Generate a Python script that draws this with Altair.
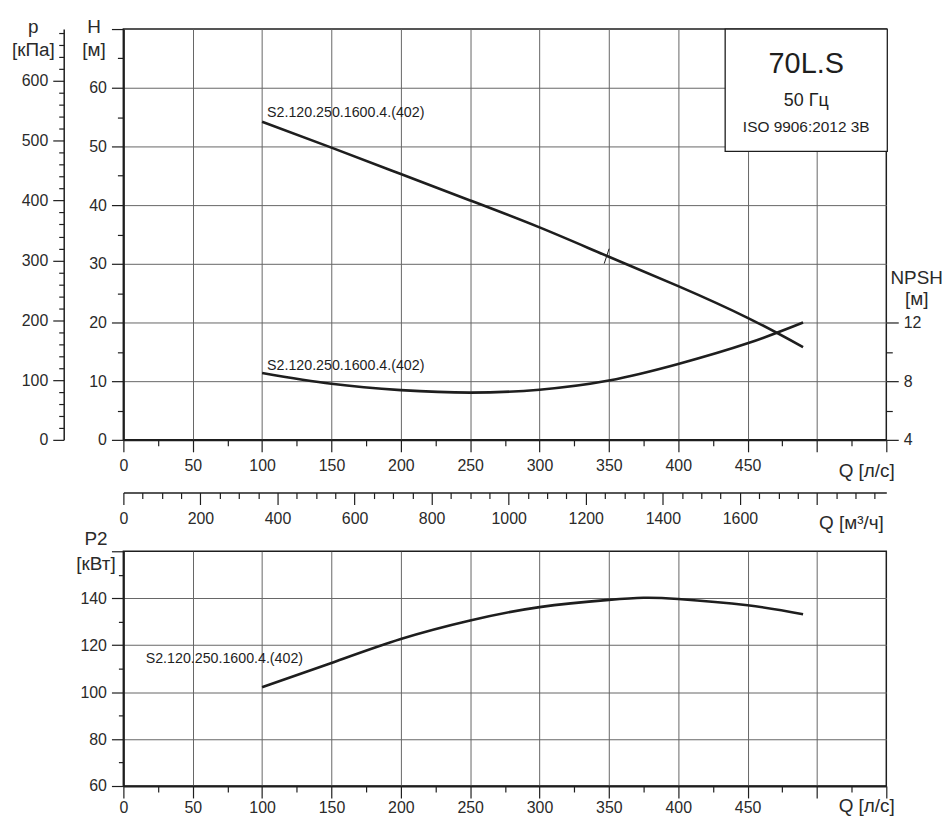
import altair as alt
import pandas as pd

# ---------------- data ----------------
curve_name = "S2.120.250.1600.4.(402)"
q_h = [100, 150, 200, 250, 300, 350, 400, 450, 490]
head_m = [54.2, 49.8, 45.3, 40.8, 36.2, 31.2, 26.2, 20.8, 15.8]
q_npsh = [100, 150, 200, 250, 300, 350, 400, 450, 490]
npsh_m = [8.56, 7.82, 7.39, 7.22, 7.42, 8.04, 9.17, 10.58, 12.0]
q_p2 = [100, 150, 200, 250, 300, 350, 375, 400, 450, 490]
p2_kw = [102.1, 112.4, 122.6, 130.5, 136.2, 139.3, 140.2, 139.7, 137.0, 133.2]
bep_q = [348.4]
bep_h = [31.3]
box_lines = ["70L.S", "50 Гц", "ISO 9906:2012 3B"]

q_ticks = list(range(0, 551, 25))
h_ticks = list(range(0, 71, 5))
p_ticks = list(range(0, 681, 20))
npsh_ticks = [4, 6, 8, 10, 12]
qm_ticks = list(range(0, 1951, 50))
p2_ticks = list(range(60, 161, 10))

Q_MAX = 550
H_MAX = 70
P_MAX = H_MAX * 9.81          # kPa equivalent of the head scale
NPSH_DOM = [4, 4 + 0.4 * H_MAX]
QM_MAX = Q_MAX * 3.6          # m3/h equivalent of the flow scale
P2_DOM = [60, 160]

# ---------------- styling ----------------
W, H_TOP, H_BOT = 767, 413, 236
FONT = "Liberation Sans"
INK = "#1e1e1e"
LINE_W = 2.6
INTERP = "natural"


def cond(test, a, b):
    return {"condition": {"test": test, "value": a}, "value": b}


def q_axis(title_y, pad):
    return alt.Axis(
        values=q_ticks,
        tickSize=cond("datum.value % 50 === 0", 12, 6),
        labelExpr="datum.value % 50 === 0 && datum.value <= 450 ? datum.label : ''",
        grid=True,
        gridOpacity=cond("datum.value % 50 === 0 && datum.value > 0 && datum.value < 550", 1, 0),
        domainWidth=2,
        labelPadding=pad,
        labelFlush=False,
        labelOverlap=False,
        title="Q [л/с]",
        titleAlign="right",
        titleBaseline="alphabetic",
        titleX=775,
        titleY=title_y,
    )


xs = alt.Scale(domain=[0, Q_MAX], nice=False, zero=False)
ys_h = alt.Scale(domain=[0, H_MAX], nice=False)

df_h = pd.DataFrame({"Q": q_h, "H": head_m})
df_n = pd.DataFrame({"Q": q_npsh, "NPSH": npsh_m})
df_p2 = pd.DataFrame({"Q": q_p2, "P2": p2_kw})
df_bep = pd.DataFrame({"Q": bep_q, "H": bep_h})
df_hlab = pd.DataFrame({"Q": [q_h[0]], "H": [head_m[0]], "name": [curve_name]})
df_nlab = pd.DataFrame({"Q": [q_npsh[0]], "NPSH": [npsh_m[0]], "name": [curve_name]})
df_plab = pd.DataFrame({"Q": [q_p2[0]], "P2": [p2_kw[0]], "name": [curve_name]})
one = pd.DataFrame({"k": [0]})

h_axis = alt.Axis(
    values=h_ticks,
    tickSize=cond("datum.value % 10 === 0", 12, 6),
    labelExpr="datum.value % 10 === 0 && datum.value < 70 ? datum.label : ''",
    grid=True,
    gridOpacity=cond("datum.value % 10 === 0 && datum.value > 0 && datum.value < 70", 1, 0),
    domainWidth=2,
    labelPadding=5,
    labelOverlap=False,
    title=["H", "[м]"],
    titleAngle=0,
    titleAlign="center",
    titleBaseline="alphabetic",
    titleX=-30,
    titleY=3,
    titleLineHeight=24,
)

h_line = alt.Chart(df_h).mark_line(color=INK, strokeWidth=LINE_W, interpolate=INTERP).encode(
    x=alt.X("Q:Q", scale=xs, axis=q_axis(37, 6)),
    y=alt.Y("H:Q", scale=ys_h, axis=h_axis),
)

h_label = alt.Chart(df_hlab).mark_text(
    align="left", baseline="alphabetic", dx=5, dy=-5, fontSize=14.3, font=FONT, color=INK
).encode(
    x=alt.X("Q:Q", scale=xs, axis=None),
    y=alt.Y("H:Q", scale=ys_h, axis=None),
    text="name:N",
)

bep = alt.Chart(df_bep).mark_point(
    shape="M -0.33 1 L 0.33 -1", size=225, filled=False, strokeWidth=1, color=INK, opacity=1
).encode(
    x=alt.X("Q:Q", scale=xs, axis=None),
    y=alt.Y("H:Q", scale=ys_h, axis=None),
)

npsh_scale = alt.Scale(domain=NPSH_DOM, nice=False, zero=False)
npsh_axis = alt.Axis(
    orient="right",
    values=npsh_ticks,
    tickSize=cond("datum.value % 4 === 0", 12, 6),
    labelExpr="datum.value % 4 === 0 ? datum.label : ''",
    grid=False,
    domain=False,
    labelPadding=5,
    labelOverlap=False,
    title=["NPSH", "[м]"],
    titleAngle=0,
    titleAlign="center",
    titleBaseline="alphabetic",
    titleX=30,
    titleY=256,
    titleLineHeight=21,
)

npsh_line = alt.Chart(df_n).mark_line(color=INK, strokeWidth=LINE_W, interpolate=INTERP).encode(
    x=alt.X("Q:Q", scale=xs, axis=None),
    y=alt.Y("NPSH:Q", scale=npsh_scale, axis=npsh_axis),
)

npsh_label = alt.Chart(df_nlab).mark_text(
    align="left", baseline="alphabetic", dx=5, dy=-3, fontSize=14.3, font=FONT, color=INK
).encode(
    x=alt.X("Q:Q", scale=xs, axis=None),
    y=alt.Y("NPSH:Q", scale=npsh_scale, axis=None),
    text="name:N",
)

p_axis = alt.Axis(
    orient="left",
    offset=60,
    values=p_ticks,
    tickSize=cond("datum.value % 100 === 0", 11, 5),
    labelExpr="datum.value % 100 === 0 ? datum.label : ''",
    grid=False,
    domainWidth=1.5,
    labelPadding=5,
    labelOverlap=False,
    title=["p", "[кПа]"],
    titleAngle=0,
    titleAlign="center",
    titleBaseline="alphabetic",
    titleX=-31,
    titleY=3,
    titleLineHeight=24,
)
p_layer = alt.Chart(pd.DataFrame({"p": [0, P_MAX]})).mark_point(opacity=0).encode(
    y=alt.Y("p:Q", scale=alt.Scale(domain=[0, P_MAX], nice=False), axis=p_axis)
)

qm_axis = alt.Axis(
    orient="bottom",
    offset=53,
    values=qm_ticks,
    format="d",
    tickSize=cond("datum.value % 200 === 0", 12, 6),
    labelExpr="datum.value % 200 === 0 && datum.value <= 1600 ? datum.label : ''",
    grid=False,
    domainWidth=1.5,
    labelPadding=6,
    labelFlush=False,
    labelOverlap=False,
    title="Q [м³/ч]",
    titleAlign="right",
    titleBaseline="alphabetic",
    titleX=764,
    titleY=36,
)
qm_layer = alt.Chart(pd.DataFrame({"qm": [0, QM_MAX]})).mark_point(opacity=0).encode(
    x=alt.X("qm:Q", scale=alt.Scale(domain=[0, QM_MAX], nice=False), axis=qm_axis)
)

box = alt.Chart(one).mark_rect(fill="white", stroke=INK, strokeWidth=1.3).encode(
    x=alt.value(605), x2=alt.value(768), y=alt.value(0), y2=alt.value(123)
)
box_t1 = alt.Chart(one).mark_text(fontSize=29, font=FONT, color=INK, align="center", baseline="alphabetic").encode(
    x=alt.value(686.5), y=alt.value(44), text=alt.value(box_lines[0])
)
box_t2 = alt.Chart(one).mark_text(fontSize=18, font=FONT, color=INK, align="center", baseline="alphabetic").encode(
    x=alt.value(686.5), y=alt.value(77), text=alt.value(box_lines[1])
)
box_t3 = alt.Chart(one).mark_text(fontSize=15.5, font=FONT, color=INK, align="center", baseline="alphabetic").encode(
    x=alt.value(686.5), y=alt.value(103), text=alt.value(box_lines[2])
)

top = alt.layer(
    h_line, npsh_line, h_label, npsh_label, bep, p_layer, qm_layer, box, box_t1, box_t2, box_t3
).resolve_scale(x="independent", y="independent").properties(width=W, height=H_TOP)

# ---------------- bottom panel ----------------
p2_scale = alt.Scale(domain=P2_DOM, nice=False, zero=False)
p2_axis = alt.Axis(
    values=p2_ticks,
    tickSize=cond("datum.value % 20 === 0", 12, 5),
    labelExpr="datum.value % 20 === 0 && datum.value < 160 ? datum.label : ''",
    grid=True,
    gridOpacity=cond("datum.value % 20 === 0 && datum.value > 60 && datum.value < 160", 1, 0),
    domainWidth=2,
    labelPadding=5,
    labelOverlap=False,
    title=["P2", "[кВт]"],
    titleAngle=0,
    titleAlign="center",
    titleBaseline="alphabetic",
    titleX=-28,
    titleY=-7,
    titleLineHeight=25,
)

p2_line = alt.Chart(df_p2).mark_line(color=INK, strokeWidth=LINE_W, interpolate=INTERP).encode(
    x=alt.X("Q:Q", scale=xs, axis=q_axis(26, 2)),
    y=alt.Y("P2:Q", scale=p2_scale, axis=p2_axis),
)
p2_label = alt.Chart(df_plab).mark_text(
    align="left", baseline="alphabetic", dx=-117, dy=-24, fontSize=14.3, font=FONT, color=INK
).encode(
    x=alt.X("Q:Q", scale=xs, axis=None),
    y=alt.Y("P2:Q", scale=p2_scale, axis=None),
    text="name:N",
)

bottom = alt.layer(p2_line, p2_label).resolve_scale(
    x="independent", y="independent"
).properties(width=W, height=H_BOT)

chart = alt.vconcat(top, bottom, spacing=112, bounds="flush").properties(
    padding={"left": 2, "top": 6, "right": 0, "bottom": 0}
).configure_view(
    stroke=INK, strokeWidth=1.5
).configure_axis(
    labelFont=FONT, labelFontSize=16, labelColor="#2a2a2a",
    titleFont=FONT, titleFontSize=19, titleFontWeight="normal", titleColor="#2a2a2a",
    tickColor=INK, tickWidth=1.2, domainColor=INK,
    gridColor="#666666", gridWidth=1,
)

chart.save("out.html", embed_options={"renderer": "svg", "actions": False})
